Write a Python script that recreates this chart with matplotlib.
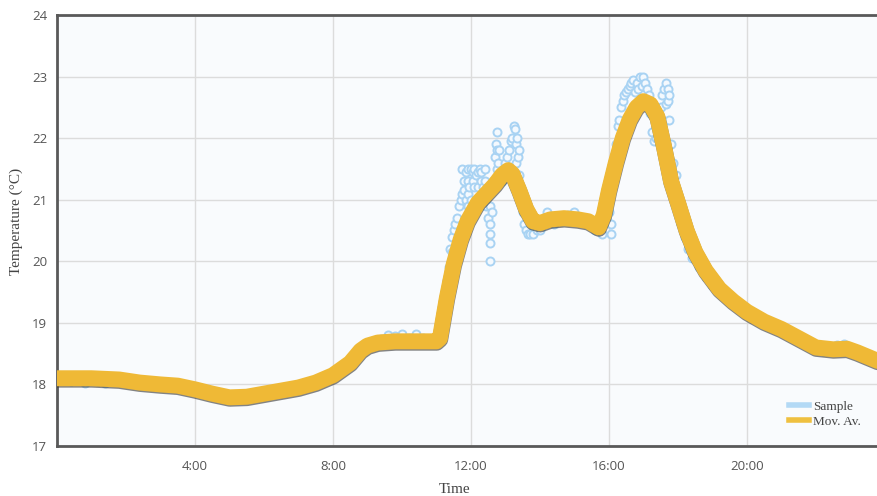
import matplotlib.pyplot as plt
import matplotlib.patheffects as pe

# Sample readings (hours, degC)
sample_hours = [
    0.0, 0.2, 0.4, 0.6, 0.8, 1.0, 1.2, 1.4, 1.6, 1.8,
    2.0, 2.2, 2.4, 2.6, 2.8, 3.0, 3.2, 3.4, 3.6, 3.8,
    4.0, 4.2, 4.4, 4.6, 4.8, 5.0, 5.2, 5.4, 5.6, 5.8,
    6.0, 6.2, 6.4, 6.6, 6.8, 7.0, 7.2, 7.4, 7.6, 7.8,
    8.0, 8.2, 8.4, 8.6, 8.8, 9.0, 9.2, 9.4, 9.6, 9.8,
    10.0, 10.2, 10.4, 10.6, 10.8, 11.0,
    11.1, 11.15, 11.2, 11.25, 11.3, 11.35, 11.4, 11.45, 11.45, 11.45,
    11.5, 11.55, 11.6, 11.65, 11.7, 11.75, 11.75, 11.8, 11.8, 11.85,
    11.85, 11.9, 11.9, 11.9, 11.9, 11.95, 12.0, 12.0, 12.05, 12.05,
    12.1, 12.1, 12.15, 12.2, 12.2, 12.25, 12.3, 12.3, 12.35, 12.4,
    12.4, 12.45, 12.45, 12.5, 12.55, 12.55, 12.55, 12.55, 12.55, 12.6,
    12.65, 12.7, 12.72, 12.75, 12.75, 12.75, 12.78, 12.8, 12.85, 12.9,
    12.95, 13.0, 13.05, 13.1, 13.15, 13.2, 13.25, 13.28, 13.3, 13.3,
    13.32, 13.35, 13.38, 13.4, 13.42, 13.45, 13.5, 13.55, 13.6, 13.65,
    13.7, 13.8, 13.9,
    14.0, 14.1, 14.2, 14.4, 14.6, 14.8, 15.0, 15.2, 15.4, 15.6,
    15.8, 15.9, 16.0, 16.05, 16.05, 16.1, 16.15, 16.2, 16.25, 16.3,
    16.35, 16.4, 16.45, 16.5, 16.55, 16.6, 16.65, 16.7, 16.75, 16.8,
    16.85, 16.9, 16.95, 17.0, 17.05, 17.1, 17.15, 17.2, 17.25, 17.3,
    17.35, 17.4, 17.5, 17.55, 17.6, 17.65, 17.65, 17.7, 17.7, 17.75,
    17.75, 17.8, 17.85, 17.9, 17.95, 18.0, 18.1, 18.2, 18.3,
    18.4, 18.6, 18.8, 19.0, 19.2, 19.4, 19.6, 19.8, 20.0, 20.2,
    20.4, 20.6, 20.8, 21.0, 21.2, 21.4, 21.6, 21.8, 22.0, 22.2,
    22.4, 22.6, 22.8, 23.0, 23.2, 23.4, 23.6, 23.8,
]
sample_temp = [
    18.10, 18.10, 18.06, 18.10, 18.03, 18.10, 18.06, 18.03, 18.10, 18.12,
    18.06, 18.04, 18.02, 18.00, 17.98, 18.02, 17.97, 17.98, 17.95, 17.92,
    17.90, 17.87, 17.84, 17.81, 17.79, 17.77, 17.76, 17.79, 17.82, 17.86,
    17.88, 17.88, 17.91, 17.93, 17.96, 17.98, 18.01, 18.03, 18.06, 18.10,
    18.15, 18.22, 18.30, 18.42, 18.56, 18.66, 18.70, 18.74, 18.80, 18.78,
    18.82, 18.76, 18.82, 18.76, 18.72, 18.70,
    18.75, 18.90, 19.20, 19.50, 19.70, 19.90, 20.20, 20.40, 20.15, 19.95,
    20.50, 20.60, 20.70, 20.90, 21.00, 21.10, 21.50, 21.30, 21.15, 21.45,
    21.00, 21.50, 21.30, 21.10, 20.90, 21.20, 21.00, 21.50, 21.30, 21.45,
    21.50, 21.20, 21.40, 21.20, 21.45, 21.50, 21.45, 21.30, 21.20, 21.50,
    21.30, 20.90, 21.15, 20.70, 20.90, 20.60, 20.30, 20.00, 20.45, 20.80,
    21.30, 21.70, 21.90, 22.10, 21.80, 21.50, 21.60, 21.80, 21.40, 21.30,
    21.50, 21.60, 21.70, 21.80, 21.95, 22.00, 22.20, 22.15, 21.90, 21.60,
    22.00, 21.70, 21.80, 21.40, 21.20, 21.10, 20.80, 20.60, 20.50, 20.45,
    20.45, 20.45, 20.50,
    20.50, 20.60, 20.80, 20.60, 20.65, 20.75, 20.80, 20.70, 20.60, 20.50,
    20.45, 20.70, 20.80, 20.45, 20.60, 21.20, 21.60, 21.90, 22.20, 22.30,
    22.50, 22.60, 22.70, 22.75, 22.80, 22.85, 22.90, 22.95, 22.75, 22.90,
    22.80, 23.00, 22.85, 23.00, 22.90, 22.80, 22.70, 22.40, 22.10, 21.95,
    22.00, 22.20, 22.50, 22.70, 22.80, 22.90, 22.55, 22.60, 22.80, 22.30,
    22.70, 21.90, 21.60, 21.20, 21.40, 20.90, 20.60, 20.40, 20.20,
    20.05, 19.90, 19.75, 19.62, 19.50, 19.40, 19.32, 19.25, 19.18, 19.12,
    19.05, 19.00, 18.97, 18.92, 18.85, 18.80, 18.72, 18.65, 18.60, 18.55,
    18.60, 18.64, 18.66, 18.60, 18.55, 18.45, 18.40, 18.35,
]

# Moving average (hours, degC)
avg_hours = [
    0.0, 1.0, 1.8, 2.4, 3.0, 3.5, 4.0, 4.5, 5.0, 5.5,
    6.0, 6.5, 7.0, 7.5, 8.0, 8.5, 8.8, 9.0, 9.3, 9.8,
    10.5, 11.0, 11.1, 11.3, 11.5, 11.7, 11.9, 12.0, 12.2, 12.45,
    12.7, 12.9, 13.08, 13.2, 13.4, 13.6, 13.8, 14.0, 14.3, 14.7,
    15.1, 15.4, 15.7, 15.85, 16.0, 16.2, 16.4, 16.6, 16.8, 17.0,
    17.2, 17.4, 17.6, 17.8, 18.0, 18.25, 18.5, 18.8, 19.2, 19.6,
    20.0, 20.5, 21.0, 21.5, 22.0, 22.5, 22.9, 23.2, 23.5, 23.8,
]
avg_temp = [
    18.10, 18.10, 18.08, 18.03, 18.00, 17.98, 17.92, 17.85, 17.79, 17.80,
    17.85, 17.90, 17.95, 18.03, 18.15, 18.35, 18.55, 18.63, 18.68, 18.70,
    18.70, 18.70, 18.75, 19.40, 19.95, 20.35, 20.65, 20.75, 20.95, 21.10,
    21.25, 21.40, 21.48, 21.42, 21.15, 20.85, 20.65, 20.62, 20.68, 20.70,
    20.68, 20.65, 20.55, 20.75, 21.15, 21.60, 22.00, 22.30, 22.50, 22.60,
    22.55, 22.35, 21.85, 21.30, 20.95, 20.50, 20.15, 19.85, 19.55, 19.35,
    19.18, 19.02, 18.90, 18.75, 18.60, 18.57, 18.58, 18.52, 18.45, 18.38,
]

hour_ticks = [4, 8, 12, 16, 20]
hour_labels = ["4:00", "8:00", "12:00", "16:00", "20:00"]
temp_ticks = [17, 18, 19, 20, 21, 22, 23, 24]

fig = plt.figure(figsize=(8.77, 4.96), dpi=100)
ax = fig.add_axes([0.065, 0.1008, 0.935, 0.869])
ax.set_facecolor("#f9fbfd")

ax.plot(sample_hours, sample_temp, linestyle="none", marker="o", markersize=5.8,
        markerfacecolor="#f4f9fe", markeredgecolor="#a9d3f3", markeredgewidth=1.4,
        label="Sample", zorder=2)
ax.plot(avg_hours, avg_temp, color="#efb936", linewidth=11.5, solid_capstyle="round",
        solid_joinstyle="round", label="Mov. Av.", zorder=3,
        path_effects=[pe.SimpleLineShadow(offset=(0.2, -1.0), shadow_color="#333333", alpha=0.6),
                      pe.Normal()])

ax.set_xlim(0, 23.77)
ax.set_ylim(17, 24)
ax.set_xticks(hour_ticks)
ax.set_xticklabels(hour_labels)
ax.set_yticks(temp_ticks)
ax.grid(True, color="#dcdcdc", linewidth=1)
ax.set_axisbelow(True)

for side in ["left", "bottom", "top"]:
    ax.spines[side].set_color("#595959")
    ax.spines[side].set_linewidth(2)
ax.spines["right"].set_visible(False)

ax.tick_params(length=0, labelcolor="#555555", labelsize=9.5)
ax.tick_params(axis="x", pad=10)
ax.tick_params(axis="y", pad=7)
for lbl in ax.get_xticklabels() + ax.get_yticklabels():
    lbl.set_family(["Open Sans", "DejaVu Sans"])

ax.set_xlabel("Time", family="Liberation Serif", fontsize=11, color="#444444")
ax.set_ylabel("Temperature (°C)", family="Liberation Serif", fontsize=11, color="#444444")
ax.xaxis.set_label_coords(0.485, -0.085)
ax.yaxis.set_label_coords(-0.041, 0.52)

sample_handle = plt.Line2D([], [], color="#b3d9f5", linewidth=4)
avg_handle = plt.Line2D([], [], color="#efc040", linewidth=4)
ax.legend([sample_handle, avg_handle], ["Sample", "Mov. Av."], loc="lower right",
          frameon=False, prop={"family": "Liberation Serif", "size": 9.5},
          handlelength=1.5, handletextpad=0.35, labelspacing=0.2,
          bbox_to_anchor=(0.995, 0.015), labelcolor="#444444")

fig.savefig("out.png", dpi=100)
